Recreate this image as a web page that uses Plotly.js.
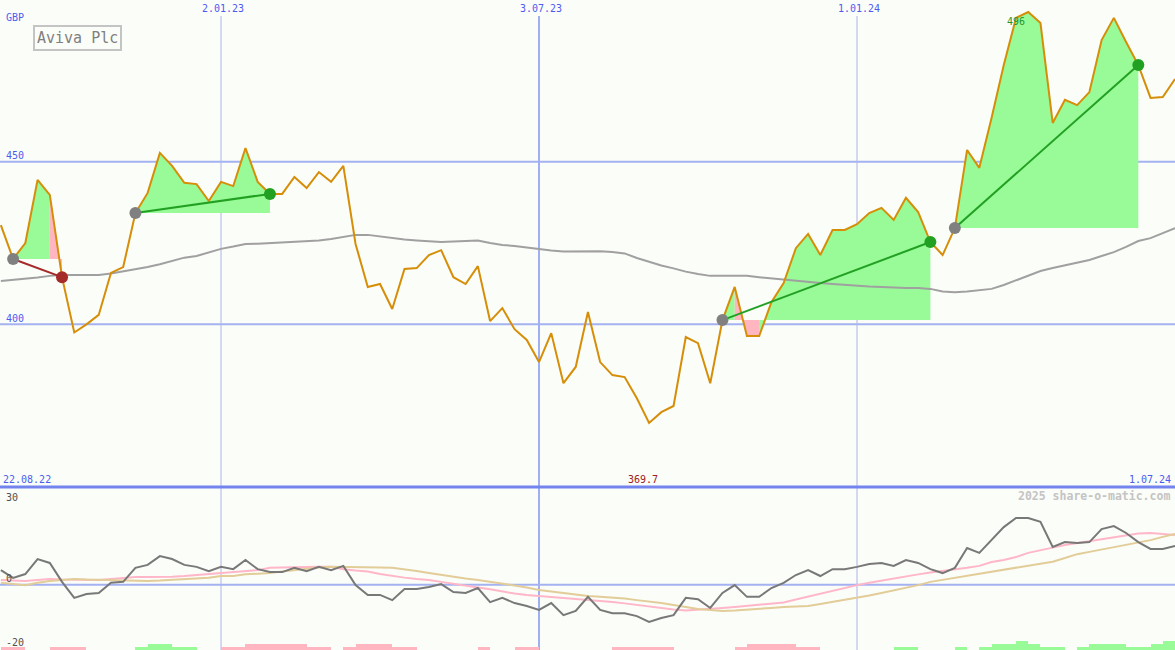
<!DOCTYPE html>
<html>
<head>
<meta charset="utf-8">
<script src="https://cdn.plot.ly/plotly-3.0.1.min.js"></script>
<style>
html,body{margin:0;padding:0;background:#FBFDF9;}
#chart{width:1175px;height:650px;}
</style>
</head>
<body>
<div id="chart"></div>
<script>
// ---------- DATA (weekly closes, GBP) ----------
const startDate = '2022-08-29';
const price = [
430.5,420.1,425.0,444.4,439.8,414.5,397.5,400.0,402.9,415.8,
417.6,434.2,440.4,452.7,448.7,443.5,443.1,437.9,443.8,442.5,
454.2,443.8,440.1,440.1,445.3,441.9,446.8,443.8,448.7,424.7,
411.5,412.4,404.7,417.0,417.3,421.3,422.8,414.5,412.4,417.9,
401.0,405.0,398.5,395.2,388.4,397.3,381.9,386.9,403.8,388.4,
384.4,383.8,377.3,369.7,373.0,374.9,396.1,394.2,381.9,401.3,
411.5,396.4,396.4,406.8,412.7,423.4,427.8,421.3,429.0,429.0,
430.8,434.2,435.8,432.1,438.9,434.5,425.3,421.3,429.6,453.6,
448.1,463.4,479.7,494.2,496.0,492.6,461.9,469.0,467.4,471.4,
487.4,494.2,486.8,479.7,469.6,469.9,475.4];
const movingAvg = [
413.3,413.6,413.9,414.4,414.9,415.2,415.2,415.2,415.2,415.6,
416.2,416.9,417.6,418.5,419.6,420.5,421.0,422.1,423.2,423.9,
424.7,424.8,425.0,425.0,425.2,425.5,425.8,426.2,426.8,427.5,
427.5,427.0,426.5,426.1,425.8,425.5,425.3,425.5,425.6,425.8,
425.0,424.4,424.1,423.6,423.2,422.7,422.4,422.4,422.5,422.5,
422.2,421.8,420.4,419.2,418.1,417.2,416.2,415.5,414.9,414.9,
414.9,414.9,414.5,414.1,413.9,413.5,413.0,412.7,412.4,412.1,
411.8,411.6,411.5,411.3,411.2,411.2,410.9,410.1,409.9,410.1,
410.4,410.9,412.1,413.6,415.0,416.4,417.3,418.1,418.8,419.8,
421.0,422.2,423.8,425.6,426.5,428.1,429.6];
// trades: indices into the weekly series
const tradeEntry = [1, 11, 59, 78];
const tradeExit  = [5, 22, 76, 93];
// lower panel
const momentum = [
4.5,2.1,3.3,7.9,6.7,0.9,-4.0,-2.8,-2.5,0.6,
0.9,5.2,6.1,8.8,7.9,6.1,5.5,4.2,5.5,4.8,
7.6,4.8,3.9,3.9,5.2,4.2,5.5,4.5,5.8,-0.1,
-3.1,-3.1,-4.7,-1.3,-1.3,-0.7,0.2,-2.2,-2.5,-1.0,
-5.3,-4.0,-5.6,-6.5,-7.7,-5.6,-9.3,-8.0,-3.7,-7.7,
-8.7,-8.7,-9.6,-11.4,-10.2,-9.3,-4.0,-4.4,-7.1,-2.5,
-0.1,-3.7,-3.7,-1.0,0.6,3.0,4.5,2.7,4.8,4.8,
5.5,6.4,6.7,5.8,7.6,6.7,4.8,3.6,5.2,11.3,
9.8,13.7,17.7,20.5,20.5,19.3,11.6,13.1,12.8,13.1,
17.1,18.0,15.9,13.1,11.0,11.0,11.9];
const fastAvg = [
1.5,1.3,1.2,1.5,1.8,1.6,1.5,1.5,1.5,1.8,
2.1,2.4,2.4,2.4,2.5,2.7,3.0,3.3,3.5,3.8,
4.2,4.5,5.2,5.3,5.5,5.5,5.5,5.5,4.8,4.4,
4.1,3.3,2.7,2.2,1.8,1.5,0.9,0.4,-0.1,-0.8,
-1.4,-2.1,-2.7,-3.1,-3.4,-3.7,-4.0,-4.2,-4.7,-5.0,
-5.3,-5.7,-6.2,-6.7,-7.1,-7.6,-7.9,-7.7,-7.4,-7.1,
-6.8,-6.5,-6.0,-5.7,-5.4,-4.5,-3.6,-2.7,-1.8,-1.0,
-0.1,0.6,1.3,1.9,2.5,3.2,3.8,4.2,4.7,5.2,
5.8,7.0,7.6,8.5,9.8,10.7,11.4,12.2,12.8,13.4,
14.0,14.7,15.3,15.7,15.9,15.6,15.3];
const slowAvg = [
0.6,0.2,-0.1,0.6,1.2,1.5,1.8,1.6,1.5,1.5,
1.3,1.2,1.2,1.3,1.5,1.6,1.9,2.2,2.7,2.7,
3.2,3.3,3.6,4.1,4.5,5.0,5.3,5.5,5.5,5.5,
5.5,5.3,5.2,4.8,4.2,3.6,3.0,2.4,1.9,1.5,
0.9,0.4,-0.1,-0.8,-1.6,-2.1,-2.5,-3.0,-3.4,-3.7,
-3.9,-4.2,-4.7,-5.1,-5.6,-6.2,-6.8,-7.4,-7.7,-8.0,
-7.9,-7.7,-7.4,-7.1,-6.8,-6.7,-6.5,-5.9,-5.3,-4.7,
-3.9,-3.3,-2.5,-1.7,-1.0,-0.1,0.9,1.5,2.1,2.7,
3.3,3.9,4.5,5.2,5.8,6.4,7.1,8.2,9.4,10.1,
10.8,11.4,12.2,13.0,13.7,14.7,15.6];
// signal strength per week (negative = pink, positive = green)
const signalLevel = [
-1,-1,0,0,-1,-1,-1,0,0,0,
0,1,2,2,1,1,0,0,-1,-1,
-2,-2,-2,-2,-2,-1,-1,0,-1,-2,
-2,-2,-1,-1,0,0,0,0,0,-1,
0,0,-1,-1,0,0,0,0,0,0,
-1,-1,-1,-1,-1,0,0,0,0,0,
-1,-2,-2,-2,-2,-1,-1,0,0,0,
0,0,0,1,1,0,0,0,1,0,
1,2,2,3,2,1,1,0,1,2,
2,2,1,1,2,3,0];
const tickDates = ['2023-01-02','2023-07-03','2024-01-01'];
const tickLabels = ['2.01.23','3.07.23','1.01.24'];
const priceTicks = [450, 400];
const lowerTicks = ['30','0','-20'];
const firstLabel = '22.08.22', lastLabel = '1.07.24';
const title = 'Aviva Plc', currency = 'GBP', credit = '2025 share-o-matic.com';

// ---------- BUILD ----------
function weekly(start, n){
  const out=[]; const t0=Date.parse(start+'T00:00:00Z');
  for(let i=0;i<n;i++){ out.push(new Date(t0+i*7*864e5).toISOString().slice(0,10)); }
  return out;
}
const dates = weekly(startDate, price.length);
const GREEN_FILL='#98FB98', PINK_FILL='#FFB6C1';
const mono='DejaVu Sans Mono';

const fillG={x:[],y:[]}, fillP={x:[],y:[]};
tradeEntry.forEach((e,t)=>{
  const xEnd=tradeExit[t], base=price[e];
  let a=e;
  while(a<xEnd){
    const up = price[a+1]>=base;
    let b=a;
    while(b+1<xEnd && (price[b+2]>=base)===up) b++;
    const tgt = up?fillG:fillP;
    for(let i=a;i<=b+1;i++){ tgt.x.push(dates[i]); tgt.y.push(price[i]); }
    tgt.x.push(dates[b+1]); tgt.y.push(base);
    tgt.x.push(dates[a]); tgt.y.push(base);
    tgt.x.push(null); tgt.y.push(null);
    a=b+1;
  }
});

const traces=[];
traces.push({type:'scatter',mode:'lines',x:fillG.x,y:fillG.y,fill:'toself',fillcolor:GREEN_FILL,line:{width:0},hoverinfo:'skip',connectgaps:false});
traces.push({type:'scatter',mode:'lines',x:fillP.x,y:fillP.y,fill:'toself',fillcolor:PINK_FILL,line:{width:0},hoverinfo:'skip',connectgaps:false});
traces.push({type:'scatter',mode:'lines',x:dates,y:movingAvg,line:{color:'#A0A0A0',width:2}});
traces.push({type:'scatter',mode:'lines',x:dates,y:price,line:{color:'#D68E08',width:2}});
tradeEntry.forEach((e,t)=>{
  const xe=tradeExit[t]; const win=price[xe]>=price[e];
  const col = win?'#22A022':'#A52A2A';
  traces.push({type:'scatter',mode:'lines',x:[dates[e],dates[xe]],y:[price[e],price[xe]],line:{color:col,width:2}});
  traces.push({type:'scatter',mode:'markers',x:[dates[e]],y:[price[e]],marker:{color:'#808080',size:12}});
  traces.push({type:'scatter',mode:'markers',x:[dates[xe]],y:[price[xe]],marker:{color:col,size:12}});
});
// lower panel
traces.push({type:'bar',x:dates,y:signalLevel.map(v=>Math.abs(v)*0.92),base:-20,offset:0,width:7*864e5,
  marker:{color:signalLevel.map(v=>v>0?GREEN_FILL:PINK_FILL),line:{width:0}},yaxis:'y2'});
traces.push({type:'scatter',mode:'lines',x:dates,y:fastAvg,line:{color:'#FFB6C8',width:2},yaxis:'y2'});
traces.push({type:'scatter',mode:'lines',x:dates,y:slowAvg,line:{color:'#E2CC98',width:2},yaxis:'y2'});
traces.push({type:'scatter',mode:'lines',x:dates,y:momentum,line:{color:'#787878',width:2},yaxis:'y2'});

const splitY = 163/650;
const shapes=[];
priceTicks.forEach(v=>shapes.push({type:'line',xref:'paper',x0:0,x1:1,yref:'y',y0:v,y1:v,line:{color:'#A4B2F2',width:2},layer:'below'}));
tickDates.forEach((d,i)=>shapes.push({type:'line',xref:'x',x0:d,x1:d,yref:'paper',y0:0,y1:1-16/650,
  line:{color: i===1?'#A0AEF2':'#AEB4E6',width: i===1?2:1},layer:'below'}));
shapes.push({type:'line',xref:'paper',x0:0,x1:1,yref:'paper',y0:splitY,y1:splitY,line:{color:'#7484EE',width:3},layer:'below'});
shapes.push({type:'line',xref:'paper',x0:0,x1:1,yref:'y2',y0:0,y1:0,line:{color:'#A4B2F2',width:2},layer:'below'});

const blue='#4C5CF0';
const ann=[];
const fy = px => 1-px/650;
ann.push({xref:'paper',yref:'paper',x:0,y:fy(18),xanchor:'left',yanchor:'middle',xshift:4,text:currency,showarrow:false,font:{family:mono,size:10,color:blue}});
priceTicks.forEach(v=>ann.push({xref:'paper',yref:'y',x:0,y:v,xanchor:'left',yanchor:'middle',xshift:4,yshift:6,text:String(v),showarrow:false,font:{family:mono,size:10,color:blue}}));
tickDates.forEach((d,i)=>ann.push({xref:'x',yref:'paper',x:d,y:fy(8),xanchor:'center',yanchor:'middle',xshift:2,text:tickLabels[i],showarrow:false,font:{family:mono,size:10,color:blue}}));
ann.push({xref:'paper',yref:'paper',x:0,y:fy(479),xanchor:'left',yanchor:'middle',xshift:1,text:firstLabel,showarrow:false,font:{family:mono,size:10,color:blue}});
ann.push({xref:'paper',yref:'paper',x:1,y:fy(479),xanchor:'right',yanchor:'middle',xshift:-2,text:lastLabel,showarrow:false,font:{family:mono,size:10,color:blue}});
// min & max labels
const iMin = price.indexOf(Math.min(...price)), iMax = price.indexOf(Math.max(...price));
ann.push({xref:'x',yref:'paper',x:dates[iMin],y:fy(479),xanchor:'center',yanchor:'middle',xshift:-6,text:price[iMin].toFixed(1),showarrow:false,font:{family:mono,size:10,color:'#A02020'}});
ann.push({xref:'x',yref:'y',x:dates[iMax],y:price[iMax],xanchor:'right',yanchor:'middle',xshift:-1,yshift:-9,text:String(Math.round(price[iMax])),showarrow:false,font:{family:mono,size:10,color:'#2A922A'}});
// title box
ann.push({xref:'paper',yref:'paper',x:33/1175,y:fy(25),xanchor:'left',yanchor:'top',text:title,showarrow:false,
  font:{family:mono,size:15,color:'#808080'},bordercolor:'#C4C4C4',borderwidth:2,borderpad:2,bgcolor:'#FBFDF9'});
// lower labels
const lowerPos=[497,578,642];
lowerTicks.forEach((t,i)=>ann.push({xref:'paper',yref:'paper',x:0,y:fy(lowerPos[i]),xanchor:'left',yanchor:'middle',xshift:4,text:t,showarrow:false,font:{family:mono,size:10,color:'#505050'}}));
ann.push({xref:'paper',yref:'paper',x:1,y:fy(496),xanchor:'right',yanchor:'middle',xshift:-3,text:credit,showarrow:false,font:{family:mono,size:11.5,color:'#C4C4C4',weight:'bold'}});

const layout={
  width:1175,height:650,autosize:false,
  margin:{l:0,r:0,t:0,b:0,pad:0},
  paper_bgcolor:'#FBFDF9',plot_bgcolor:'#FBFDF9',
  showlegend:false,hovermode:false,bargap:0,
  xaxis:{type:'date',range:['2022-08-28 12:00','2024-07-01 00:00'],visible:false,fixedrange:true},
  yaxis:{domain:[splitY,1],range:[350,499.7],visible:false,fixedrange:true},
  yaxis2:{domain:[0,splitY],range:[-20,30],visible:false,fixedrange:true},
  shapes:shapes,annotations:ann
};
Plotly.newPlot('chart',traces,layout,{staticPlot:true,displayModeBar:false});
</script>
</body>
</html>
